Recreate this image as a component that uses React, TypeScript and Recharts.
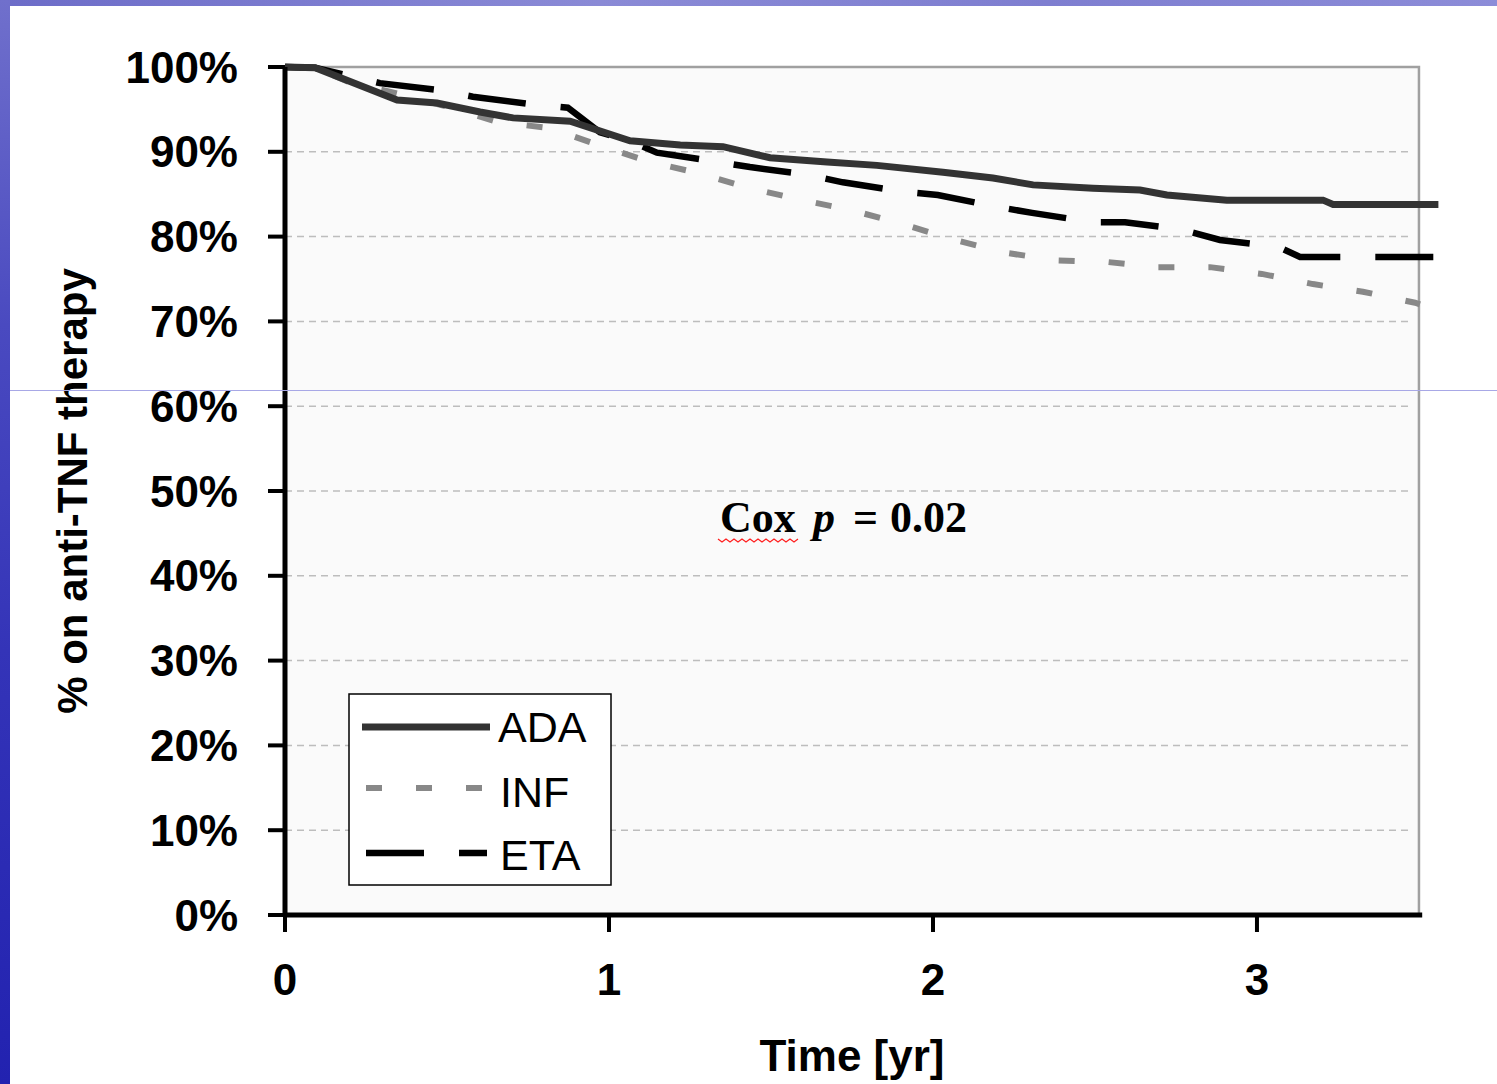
import React from 'react';
import { LineChart, Line, XAxis, YAxis, ReferenceArea, ReferenceLine, Legend, Label } from 'recharts';

// ---- data ----
const adaTimes = [0, 0.093, 0.346, 0.469, 0.602, 0.704, 0.88, 1.065, 1.22, 1.352, 1.497, 1.673, 1.827, 2.031, 2.185, 2.309, 2.494, 2.639, 2.722, 2.907, 3.204, 3.235, 3.56];
const adaValues = [100, 99.9, 96.1, 95.75, 94.7, 94.0, 93.6, 91.3, 90.8, 90.6, 89.3, 88.8, 88.4, 87.6, 86.9, 86.1, 85.7, 85.5, 84.9, 84.3, 84.3, 83.8, 83.8];

const infTimes = [0, 0.093, 0.2, 0.355, 0.503, 0.657, 0.818, 0.966, 1.127, 1.275, 1.435, 1.596, 1.75, 1.904, 2.068, 2.222, 2.383, 2.54, 2.694, 2.855, 3.015, 3.173, 3.327, 3.488, 3.503];
const infValues = [100, 99.9, 98.2, 96.8, 95.3, 93.5, 92.8, 90.8, 88.8, 87.5, 85.7, 84.3, 83.1, 81.5, 79.6, 78.1, 77.2, 77.0, 76.4, 76.4, 75.6, 74.4, 73.5, 72.2, 72.0];

const etaTimes = [0, 0.093, 0.293, 0.472, 0.58, 0.762, 0.873, 0.972, 1.056, 1.148, 1.321, 1.435, 1.611, 1.722, 1.907, 2.015, 2.198, 2.306, 2.491, 2.593, 2.772, 2.886, 3.065, 3.133, 3.56];
const etaValues = [100, 99.9, 98.1, 97.3, 96.5, 95.6, 95.2, 92.3, 91.4, 89.9, 88.9, 88.2, 87.3, 86.4, 85.3, 84.9, 83.5, 82.8, 81.7, 81.7, 80.8, 79.6, 78.8, 77.6, 77.6];

const xTicks = [0, 1, 2, 3];
const yTicks = [0, 10, 20, 30, 40, 50, 60, 70, 80, 90, 100];
const gridLevels = [10, 20, 30, 40, 50, 60, 70, 80, 90];

const seriesNames = ['ADA', 'INF', 'ETA'];
const yAxisTitle = '% on anti-TNF therapy';
const xAxisTitle = 'Time [yr]';

const zip = (ts: number[], vs: number[]) => ts.map((t, i) => ({ t, v: vs[i] }));
const adaData = zip(adaTimes, adaValues);
const infData = zip(infTimes, infValues);
const etaData = zip(etaTimes, etaValues);

const SANS = '"Liberation Sans", Arial, sans-serif';
const SERIF = '"Liberation Serif", "Times New Roman", serif';

const styles = [
  { stroke: '#333333', width: 7, dash: undefined as string | undefined },
  { stroke: '#888888', width: 6, dash: '16 34' },
  { stroke: '#000000', width: 6.5, dash: '58 35' },
];

const YTitle = (props: any) => {
  const vb = props.viewBox || { x: 0, y: 67, width: 285, height: 848 };
  const x = vb.x + 87;
  const y = vb.y + vb.height / 2;
  return (
    <text x={x} y={y} transform={`rotate(-90, ${x}, ${y})`} textAnchor="middle" fill="#000"
      style={{ fontFamily: SANS, fontSize: 42, fontWeight: 'bold' }}>
      {yAxisTitle}
    </text>
  );
};

const XTitle = (props: any) => {
  const vb = props.viewBox || { x: 285, y: 915, width: 1153, height: 169 };
  const x = vb.x + (3.5 / 3.56) * vb.width / 2;
  const y = vb.y + 156;
  return (
    <text x={x} y={y} textAnchor="middle" fill="#000"
      style={{ fontFamily: SANS, fontSize: 44, fontWeight: 'bold' }}>
      {xAxisTitle}
    </text>
  );
};

const legendRows = [
  { x1: 14, x2: 142, y: 34, tx: 150, ty: 49 },
  { x1: 18, x2: 136, y: 95, tx: 152, ty: 114 },
  { x1: 18, x2: 139, y: 160, tx: 152, ty: 177 },
];

const LegendBox = () => (
  <svg width={264} height={193} style={{ display: 'block' }}>
    <rect x={1} y={1} width={262} height={191} fill="#ffffff" stroke="#000" strokeWidth={1.5} />
    {seriesNames.map((name, i) => (
      <g key={name}>
        <line x1={legendRows[i].x1} x2={legendRows[i].x2} y1={legendRows[i].y} y2={legendRows[i].y}
          stroke={styles[i].stroke} strokeWidth={styles[i].width} strokeDasharray={styles[i].dash} />
        <text x={legendRows[i].tx} y={legendRows[i].ty} fill="#000"
          style={{ fontFamily: SANS, fontSize: 43 }}>{name}</text>
      </g>
    ))}
  </svg>
);

const wavy = (() => {
  let d = 'M718 539';
  for (let i = 1; i <= 20; i++) {
    d += ` L${718 + i * 4} ${i % 2 === 1 ? 542 : 539}`;
  }
  return d;
})();

export default function App() {
  return (
    <div style={{ position: 'absolute', left: 0, top: 0, width: 1497, height: 1084, background: '#ffffff', overflow: 'hidden' }}>
      <LineChart width={1497} height={1084} margin={{ top: 67, right: 58.6, bottom: 0, left: 0 }}>
        <ReferenceArea x1={0} x2={3.5} y1={0} y2={100} fill="#fafafa" fillOpacity={1}
          stroke="#a0a0a0" strokeWidth={2.5} ifOverflow="visible" zIndex={-200} />
        {gridLevels.map((g) => (
          <ReferenceLine key={g} segment={[{ x: 0, y: g }, { x: 3.47, y: g }]}
            stroke="#bdbdbd" strokeWidth={1.5} strokeDasharray="7 5" zIndex={-150} />
        ))}
        <XAxis type="number" dataKey="t" domain={[0, 3.56]} ticks={xTicks} interval={0}
          axisLine={false} tickLine={{ stroke: '#000', strokeWidth: 4 }} tickSize={17} tickMargin={32}
          height={169} tick={{ fill: '#000', fontSize: 44, fontWeight: 'bold', fontFamily: SANS }}>
          <Label content={XTitle} />
        </XAxis>
        <YAxis type="number" domain={[0, 100]} ticks={yTicks} interval={0} width={285}
          tickFormatter={(v: number) => `${v}%`}
          axisLine={{ stroke: '#000', strokeWidth: 5 }} tickLine={{ stroke: '#000', strokeWidth: 4 }}
          tickSize={17} tickMargin={30}
          tick={{ fill: '#000', fontSize: 44, fontWeight: 'bold', fontFamily: SANS }}>
          <Label content={YTitle} />
        </YAxis>
        <ReferenceLine segment={[{ x: 0, y: 0 }, { x: 3.51, y: 0 }]} stroke="#000" strokeWidth={5} ifOverflow="visible" />
        <Line data={infData} dataKey="v" name={seriesNames[1]} type="linear" stroke={styles[1].stroke}
          strokeWidth={styles[1].width} strokeDasharray={styles[1].dash} dot={false} activeDot={false} isAnimationActive={false} />
        <Line data={etaData} dataKey="v" name={seriesNames[2]} type="linear" stroke={styles[2].stroke}
          strokeWidth={styles[2].width} strokeDasharray={styles[2].dash} dot={false} activeDot={false} isAnimationActive={false} />
        <Line data={adaData} dataKey="v" name={seriesNames[0]} type="linear" stroke={styles[0].stroke}
          strokeWidth={styles[0].width} dot={false} activeDot={false} isAnimationActive={false} />
        <Legend layout="horizontal" verticalAlign="middle" align="center" content={LegendBox}
          wrapperStyle={{ position: 'absolute', left: 348, top: 693, width: 264, height: 193 }} />
      </LineChart>
      <svg width={1497} height={1084} style={{ position: 'absolute', left: 0, top: 0, pointerEvents: 'none' }}>
        <text y={532} fill="#000" style={{ fontFamily: SERIF, fontSize: 44, fontWeight: 'bold' }}>
          <tspan x={720}>Cox</tspan>
          <tspan x={813} fontStyle="italic">p</tspan>
          <tspan x={853}>=</tspan>
          <tspan x={890}>0.02</tspan>
        </text>
        <path d={wavy} fill="none" stroke="#ff2020" strokeWidth={1.2} />
      </svg>
      <div style={{ position: 'absolute', left: 0, top: 0, width: 1497, height: 6, background: 'linear-gradient(to right, #6c6cc8, #8a8ad6 40%, #7e7ed0 70%, #8c8cd8)' }} />
      <div style={{ position: 'absolute', left: 0, top: 0, width: 10, height: 1084, background: 'linear-gradient(to bottom, #7070cc, #4a4ac0 30%, #3434b8 60%, #2222b0)' }} />
      <div style={{ position: 'absolute', left: 10, top: 390, width: 1487, height: 1, background: '#a8a8e6' }} />
    </div>
  );
}
